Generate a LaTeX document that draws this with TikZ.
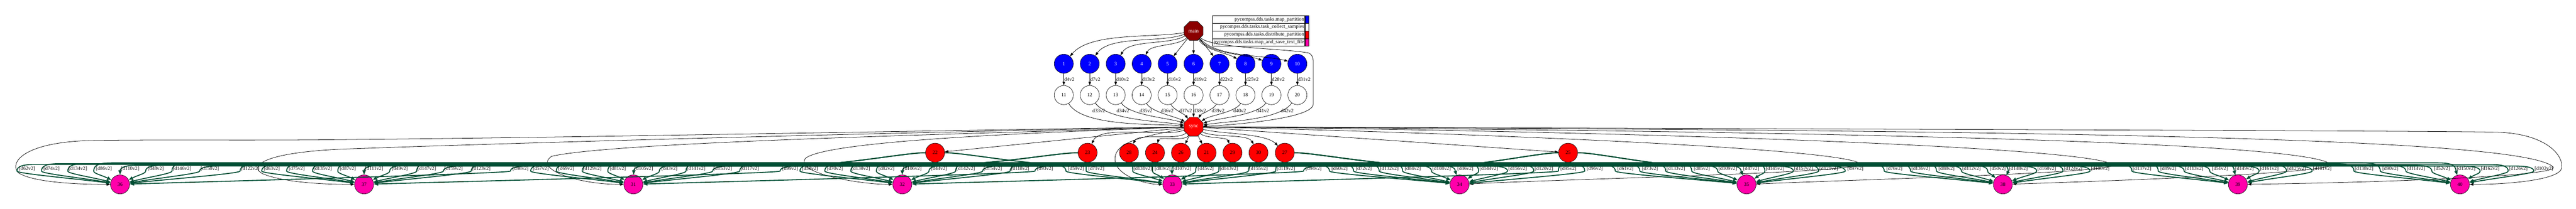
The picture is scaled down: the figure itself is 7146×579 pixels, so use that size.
\documentclass[tikz,border=0pt]{standalone}
\usepackage{fontspec}
\setmainfont{Liberation Serif}
\usetikzlibrary{positioning,shapes.geometric,arrows.meta}
\definecolor{maincol}{RGB}{139,0,0}
\definecolor{savecol}{RGB}{255,0,170}
\definecolor{flowgreen}{RGB}{0,77,51}
\tikzset{
  tasknode/.style={draw, circle, minimum size=53pt, inner sep=0pt, line width=0.9pt, font=\fontsize{14}{16}\selectfont},
  maptask/.style={tasknode, fill=blue, text=white},
  collecttask/.style={tasknode, fill=white},
  disttask/.style={tasknode, fill=red},
  savetask/.style={tasknode, fill=savecol},
  octo/.style={draw, regular polygon, regular polygon sides=8, minimum size=57pt, inner sep=0pt, line width=0.9pt, text=white, font=\fontsize{14}{16}\selectfont},
  depedge/.style={line width=1.1pt, -{Triangle[length=10pt,width=7pt]}},
  flowedge/.style={line width=2.6pt, flowgreen, -{Triangle[length=12pt,width=9pt]}},
  deplabel/.style={font=\fontsize{14}{16}\selectfont, inner sep=1pt},
  flowlabel/.style={font=\fontsize{14}{16}\selectfont, inner sep=0pt},
  legrow/.style={draw, line width=1pt, minimum height=21.25pt, text width=252pt, align=right, inner xsep=1.5pt, inner ysep=0pt, font=\fontsize{14}{16}\selectfont},
  legswatch/.style={draw, line width=1pt, minimum width=11pt, minimum height=21.25pt, inner sep=0pt},
}
\begin{document}
\begin{tikzpicture}[x=1pt,y=1pt]
\useasboundingbox (0,0) rectangle (7146,579);

% tasks
\node[octo, fill=maincol] (main) at (3311,493) {main};
\foreach \i in {1,...,10} {
  \pgfmathsetmacro\bx{3311+(\i-6)*72}
  \pgfmathtruncatemacro\j{\i+10}
  \node[maptask] (m\i) at (\bx,402) {\i};
  \node[collecttask] (c\j) at (\bx,315) {\j};
}
\node[octo, fill=red] (sync) at (3311,227) {sync};
\foreach \src/\x/\o/\fl/\fr in {21/3347/12/0/0, 22/2594/26/1/1, 23/3017/38/1/0, 24/3204/50/0/0, 25/4350/62/1/1,
    26/3276/74/0/0, 27/3564/86/0/1, 28/3132/98/0/0, 29/3419/110/0/0, 30/3491/122/0/0} {
  \node[disttask] (d\src) at (\x,155) {\src};
  \expandafter\xdef\csname redx\src\endcsname{\x}
  \expandafter\xdef\csname redo\src\endcsname{\o}
  \expandafter\xdef\csname redl\src\endcsname{\fl}
  \expandafter\xdef\csname redr\src\endcsname{\fr}
}
\foreach \dst/\x in {36/333, 37/1010, 31/1757, 32/2503, 33/3252, 34/4049, 35/4845, 38/5556, 39/6208, 40/6824}
  \node[savetask] (s\dst) at (\x,67) {\dst};

% legend
\foreach \t/\col [count=\i] in {map\_partition/blue, task\_collect\_samples/white, distribute\_partition/red, map\_and\_save\_text\_file/savecol} {
  \node[legrow] (leg\i) at (3491.5,546.3-21.25*\i) {pycompss.dds.tasks.\t};
  \node[legswatch, fill=\col, right=0pt of leg\i] (sw\i) {};
}

% main -> map_partition -> task_collect_samples -> sync
\foreach \i/\oa/\ia in {1/190/50, 2/200/55, 3/210/60, 4/225/65, 8/-60/150, 9/-55/160, 10/-50/165}
  \draw[depedge] (main) to[out=\oa, in=\ia, looseness=0.7] (m\i);
\foreach \i in {5,6,7}
  \draw[depedge] (main) -- (m\i);
\foreach \i in {1,...,10} {
  \pgfmathtruncatemacro\j{\i+10}
  \pgfmathtruncatemacro\dn{3*\i+1}
  \draw[depedge] (m\i) -- node[deplabel, right] (lm\i) {d\dn v2} (c\j);
}
\foreach \j/\lx/\oa/\ia in {11/3048/-60/175, 12/3115/-55/170, 13/3179/-55/160, 14/3238/-60/150, 15/3289/-70/125,
    16/3328/-90/90, 17/3379/-110/60, 18/3439/-120/35, 19/3503/-125/20, 20/3571/-125/10} {
  \pgfmathtruncatemacro\dn{\j+22}
  \draw[depedge] (c\j) to[out=\oa, in=\ia, looseness=0.6] (sync);
  \node[deplabel] (lc\j) at (\lx,272) {d\dn v2};
}
\draw[depedge] (main) .. controls (3360,445) and (3560,445) .. (3630,432) .. controls (3645,425) and (3643,410) .. (3643,395)
  -- (3643,290) .. controls (3643,250) and (3420,232) .. (sync);

% sync -> distribute_partition
\draw[depedge] (sync) -- (d22);
\draw[depedge] (sync) to[out=200, in=65, looseness=0.6] (d23);
\draw[depedge] (sync) to[out=220, in=65, looseness=0.6] (d28);
\draw[depedge] (sync) to[out=240, in=75, looseness=0.6] (d24);
\draw[depedge] (sync) -- (d26);
\draw[depedge] (sync) -- (d21);
\draw[depedge] (sync) to[out=-45, in=110, looseness=0.6] (d29);
\draw[depedge] (sync) to[out=-30, in=120, looseness=0.6] (d30);
\draw[depedge] (sync) to[out=-15, in=135, looseness=0.6] (d27);
\draw[depedge] (sync) -- (d25);

% sync -> map_and_save_text_file
\draw[depedge] (sync) .. controls (2500,215) and (1500,196) .. (1000,192) .. controls (700,188) and (480,192) .. (260,189)
  .. controls (70,186) and (25,130) .. (50,100) .. controls (90,72) and (220,67) .. (s36);
\draw[depedge] (sync) .. controls (2200,205) and (1300,178) .. (950,165) .. controls (720,155) and (690,115) .. (730,96)
  .. controls (790,72) and (900,67) .. (s37);
\draw[depedge] (sync) .. controls (2700,208) and (1700,185) .. (1530,145) .. controls (1480,110) and (1600,67) .. (s31);
\draw[depedge] (sync) .. controls (2900,212) and (2300,190) .. (2235,140) .. controls (2200,100) and (2380,67) .. (s32);
\draw[depedge] (sync) .. controls (3170,200) and (3090,185) .. (3093,135) .. controls (3096,90) and (3180,67) .. (s33);
\draw[depedge] (sync) .. controls (4000,212) and (5100,170) .. (5160,125) .. controls (5190,100) and (4400,84) .. (s34);
\draw[depedge] (sync) .. controls (4600,214) and (5800,170) .. (5860,122) .. controls (5890,100) and (5200,82) .. (s35);
\draw[depedge] (sync) .. controls (5100,215) and (6400,185) .. (6465,123) .. controls (6490,100) and (5900,78) .. (s38);
\draw[depedge] (sync) .. controls (5600,218) and (7000,200) .. (7083,115) .. controls (7100,90) and (6600,72) .. (s39);
\draw[depedge] (sync) .. controls (6000,218) and (6800,215) .. (6927,212) .. controls (7060,208) and (7112,150) .. (7106,112)
  .. controls (7100,80) and (6960,67) .. (s40);

% distribute_partition -> map_and_save_text_file
\foreach \dst/\px/\flows in {
  36/333/{22/75,23/143,28/216,24/288,26/361,21/432,29/505,30/582,27/694,25/1444},
  37/1010/{22/754,23/823,28/895,24/965,26/1038,21/1109,29/1184,30/1258,27/1335,25/2192},
  31/1757/{22/1500,23/1571,28/1643,24/1714,26/1786,21/1857,29/1931,30/2005,27/2080,25/2899},
  32/2503/{22/2247,23/2316,28/2388,24/2459,26/2531,21/2605,29/2679,30/2754,27/2830,25/3644},
  33/3252/{22/2985,23/3041,28/3170,24/3225,26/3279,21/3345,29/3409,30/3491,27/3567,25/4351},
  34/4049/{22/3716,23/3783,28/3854,24/3919,26/3999,21/4065,29/4130,30/4210,27/4283,25/4424},
  35/4845/{22/4509,23/4577,28/4649,24/4721,26/4793,21/4858,29/4924,30/5003,27/5073,25/5147},
  38/5556/{23/5255,28/5328,24/5400,26/5469,21/5542,29/5599,30/5678,27/5751,25/5826},
  39/6208/{28/5942,24/6015,26/6087,21/6158,29/6226,30/6295,27/6371,25/6442},
  40/6824/{28/6558,24/6631,26/6702,21/6774,29/6841,30/6908,27/6986,25/7057}} {
  \foreach \src/\lx in \flows {
    \edef\rx{\csname redx\src\endcsname}
    \edef\fl{\csname redl\src\endcsname}
    \edef\fr{\csname redr\src\endcsname}
    \pgfmathtruncatemacro\dnum{\dst+\csname redo\src\endcsname}
    \pgfmathsetmacro\X{\lx-28}
    \pgfmathsetmacro\dx{\X-\rx}
    \pgfmathsetmacro\sgn{ifthenelse(\dx<0,-1,1)}
    \pgfmathsetmacro\side{and(abs(\dx)>800,ifthenelse(\dx<0,\fl,\fr))}
    \pgfmathsetmacro\cof{\sgn*min(50,abs(\dx)/4)}
    \pgfmathsetmacro\Yb{118+2.2*mod(\src,5)}
    \pgfmathsetmacro\cax{ifthenelse(\side,\rx+80*\sgn,\rx)}
    \pgfmathsetmacro\cay{ifthenelse(\side,155,\Yb)}
    \pgfmathsetmacro\cbx{ifthenelse(\side,\rx+250*\sgn,\rx+\cof/2)}
    \pgfmathsetmacro\ax{ifthenelse(\side,\rx+350*\sgn,\rx+\cof)}
    \pgfmathsetmacro\bx{\X-\cof}
    \pgfmathsetmacro\bbx{\X-\cof/3}
    \pgfmathsetmacro\ang{atan2(37,\X-\px)}
    \pgfmathsetmacro\kof{min(0.35*abs(\X-\px),90)+32}
    \pgfmathsetmacro\ebx{\px+\kof*cos(\ang)}
    \pgfmathsetmacro\eby{67+\kof*sin(\ang)}
    \draw[flowedge] (d\src) .. controls (\cax,\cay) and (\cbx,\Yb) .. (\ax,\Yb) -- (\bx,\Yb)
      .. controls (\bbx,\Yb) and (\X,\Yb-5) .. (\X,104) .. controls (\X,97) and (\ebx,\eby) .. (s\dst);
    \node[flowlabel] (f\dst-\src) at (\lx,111) {[d\dnum v2]};
  }
}
\end{tikzpicture}
\end{document}
